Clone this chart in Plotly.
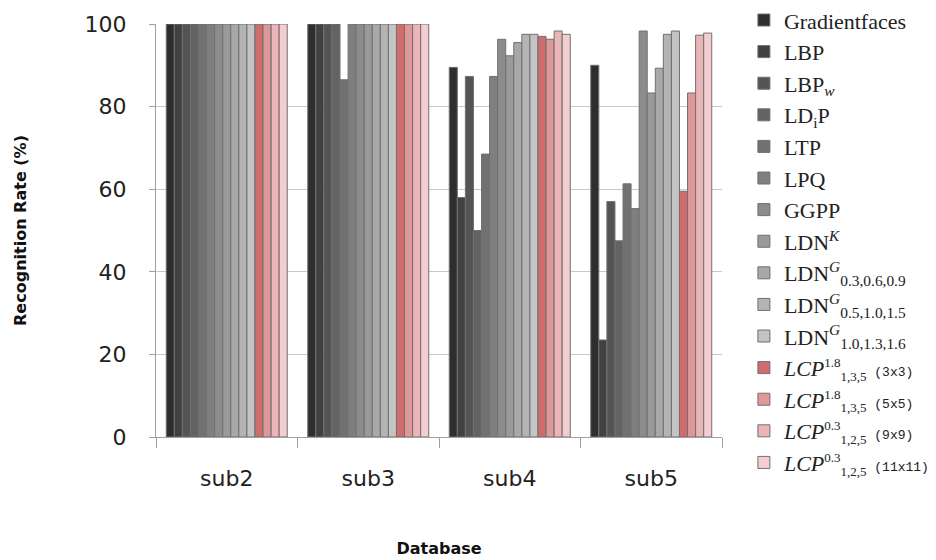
import plotly.graph_objects as go

categories = ["sub2", "sub3", "sub4", "sub5"]


def small(t):
    return "<span style='font-size:13px'>" + t + "</span>"


mono = "<span style='font-family:Liberation Mono, monospace;font-size:13px'>"
series_names = [
    "Gradientfaces",
    "LBP",
    "LBP<sub><i>w</i></sub>",
    "LD<sub>i</sub>P",
    "LTP",
    "LPQ",
    "GGPP",
    "LDN<sup><i>K</i></sup>",
    "LDN<sup><i>G</i></sup><sub>0.3,0.6,0.9</sub>",
    "LDN<sup><i>G</i></sup><sub>0.5,1.0,1.5</sub>",
    "LDN<sup><i>G</i></sup><sub>1.0,1.3,1.6</sub>",
    "<i>LCP</i><sup>" + small("1.8") + "</sup><sub>" + small("1,3,5") + "</sub>" + mono + " (3x3)</span>",
    "<i>LCP</i><sup>" + small("1.8") + "</sup><sub>" + small("1,3,5") + "</sub>" + mono + " (5x5)</span>",
    "<i>LCP</i><sup>" + small("0.3") + "</sup><sub>" + small("1,2,5") + "</sub>" + mono + " (9x9)</span>",
    "<i>LCP</i><sup>" + small("0.3") + "</sup><sub>" + small("1,2,5") + "</sub>" + mono + " (11x11)</span>",
]

gradientfaces = [100, 100, 89.5, 90.0]
lbp = [100, 100, 58.0, 23.5]
lbp_w = [100, 100, 87.3, 57.0]
ldip = [100, 100, 50.0, 47.5]
ltp = [100, 86.5, 68.5, 61.3]
lpq = [100, 100, 87.3, 55.3]
ggpp = [100, 100, 96.3, 98.3]
ldn_k = [100, 100, 92.3, 83.3]
ldn_g1 = [100, 100, 95.5, 89.3]
ldn_g2 = [100, 100, 97.5, 97.5]
ldn_g3 = [100, 100, 97.5, 98.3]
lcp_3x3 = [100, 100, 97.0, 59.5]
lcp_5x5 = [100, 100, 96.3, 83.3]
lcp_9x9 = [100, 100, 98.3, 97.3]
lcp_11x11 = [100, 100, 97.5, 97.8]

series_values = [gradientfaces, lbp, lbp_w, ldip, ltp, lpq, ggpp, ldn_k,
                 ldn_g1, ldn_g2, ldn_g3, lcp_3x3, lcp_5x5, lcp_9x9, lcp_11x11]

colors = ["#2e2e2e", "#414141", "#545454", "#636363", "#717171", "#7f7f7f",
          "#8c8c8c", "#9a9a9a", "#a8a8a8", "#b4b4b4", "#c4c4c4",
          "#d06c6c", "#df9898", "#ebb4b6", "#f3cdcf"]

fig = go.Figure()
for name, vals, col in zip(series_names, series_values, colors):
    fig.add_trace(go.Bar(
        x=categories, y=vals, name=name,
        marker=dict(color=col, line=dict(color="#707070", width=1)),
    ))

fig.update_layout(
    width=928, height=552,
    barmode="group", bargap=0.145, bargroupgap=0,
    plot_bgcolor="white", paper_bgcolor="white",
    margin=dict(l=148, r=214, t=16, b=123, autoexpand=False),
    font=dict(family="DejaVu Sans, sans-serif", color="#222"),
    showlegend=True,
    legend=dict(
        xref="container", yref="paper", x=0.793, y=1.06,
        xanchor="left", yanchor="top", maxheight=560,
        font=dict(family="Liberation Serif, serif", size=22, color="#222"),
        traceorder="normal", itemwidth=30, tracegroupgap=0,
        bgcolor="rgba(0,0,0,0)",
    ),
    xaxis=dict(
        automargin=False,
        showline=True, linecolor="#a0a0a0", linewidth=1,
        ticks="outside", tickson="boundaries", ticklen=10, tickcolor="#a0a0a0",
        tickfont=dict(size=22, color="#222"), ticklabelstandoff=22,
        title=dict(text="<b>Database</b>", font=dict(size=16, color="#111"), standoff=52),
    ),
    yaxis=dict(
        automargin=False,
        range=[0, 100], tickvals=[0, 20, 40, 60, 80, 100],
        showline=True, linecolor="#a0a0a0", linewidth=1,
        ticks="outside", ticklen=6, tickcolor="#a0a0a0",
        showgrid=True, gridcolor="#c8c8c8", gridwidth=1,
        tickfont=dict(size=22, color="#222"), ticklabelstandoff=18,
        title=dict(text="<b>Recognition Rate (%)</b>", font=dict(size=16, color="#111"), standoff=53),
        zeroline=False,
    ),
)

fig.write_html("out.html")
